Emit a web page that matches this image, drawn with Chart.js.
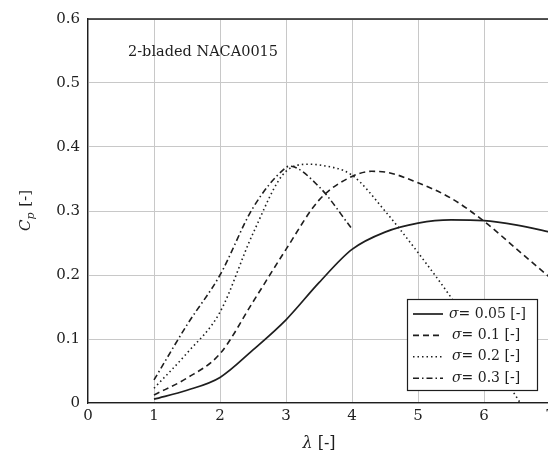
<!DOCTYPE html>
<html>
<head>
<meta charset="utf-8">
<script src="https://cdn.jsdelivr.net/npm/chart.js@4"></script>
<style>
html,body{margin:0;padding:0;overflow:hidden;background:#fff;width:548px;height:454px;}
#wrap{position:absolute;left:0;top:0;width:552px;height:454px;}
</style>
</head>
<body>
<div id="wrap"><canvas id="c"></canvas></div>
<script>
const xTicks = [0,1,2,3,4,5,6,7];
const yTicks = [0,0.1,0.2,0.3,0.4,0.5,0.6];
const seriesLabels = ['0.05','0.1','0.2','0.3'];

const lam05 = [1,1.5,2,2.5,3,3.5,4,4.5,5,5.5,6,6.5,7];
const cp05  = [0.006,0.02,0.04,0.083,0.13,0.188,0.24,0.267,0.281,0.286,0.285,0.278,0.267];

const lam10 = [1,1.5,2,2.5,3,3.5,4,4.3,4.5,5,5.5,6,6.5,7];
const cp10  = [0.0125,0.039,0.077,0.158,0.24,0.317,0.354,0.362,0.361,0.344,0.32,0.284,0.24,0.196];

const lam20 = [1,1.5,2,2.5,3,3.35,3.5,4,4.5,5,5.5,6,6.55];
const cp20  = [0.023,0.078,0.142,0.265,0.362,0.373,0.372,0.356,0.30,0.235,0.165,0.088,0];

const lam30 = [1,1.5,2,2.5,3,3.05,3.5,4];
const cp30  = [0.036,0.122,0.2,0.305,0.368,0.37,0.338,0.272];

const pts = (xs, ys) => xs.map((x,i)=>({x:x, y:ys[i]}));
const ink = '#1e1e1e';
const SERIF = '"DejaVu Serif", "Liberation Serif", serif';

const styles = [
  {dash:[], w:1.7},
  {dash:[6,4], w:1.6},
  {dash:[1.5,3], w:1.6},
  {dash:[6,3,1.5,3], w:1.6}
];
const allData = [pts(lam05,cp05), pts(lam10,cp10), pts(lam20,cp20), pts(lam30,cp30)];

const datasets = allData.map((d,i)=>({
  label: seriesLabels[i],
  data: d,
  borderColor: ink,
  borderWidth: styles[i].w,
  borderDash: styles[i].dash,
  pointRadius: 0,
  fill: false,
  cubicInterpolationMode: 'monotone',
  showLine: true
}));

const overlay = {
  id: 'overlay',
  afterDraw(chart) {
    const ctx = chart.ctx;
    const a = chart.chartArea;
    ctx.save();
    ctx.strokeStyle = ink; ctx.lineWidth = 1.3; ctx.setLineDash([]);
    ctx.beginPath(); ctx.moveTo(a.left, a.top); ctx.lineTo(a.right+2, a.top); ctx.stroke();

    ctx.fillStyle = ink;
    ctx.font = '14.5px ' + SERIF;
    ctx.textAlign = 'left'; ctx.textBaseline = 'alphabetic';
    ctx.fillText('2-bladed NACA0015', 128, 56);

    const cx = (a.left + a.right)/2;
    ctx.textBaseline = 'middle';
    ctx.font = 'italic 16px ' + SERIF;
    const wl = ctx.measureText('λ').width;
    ctx.font = '16px ' + SERIF;
    const wr = ctx.measureText(' [-]').width;
    let sx = cx - (wl+wr)/2;
    ctx.font = 'italic 16px ' + SERIF; ctx.fillText('λ', sx, 444);
    ctx.font = '16px ' + SERIF; ctx.fillText(' [-]', sx+wl, 444);

    ctx.save();
    ctx.translate(25, (a.top+a.bottom)/2);
    ctx.rotate(-Math.PI/2);
    ctx.font = 'italic 15px ' + SERIF;
    const wC = ctx.measureText('C').width;
    ctx.font = 'italic 11px ' + SERIF;
    const wp = ctx.measureText('p').width;
    ctx.font = '15px ' + SERIF;
    const wb = ctx.measureText(' [-]').width;
    let tx = -(wC+wp+wb)/2;
    ctx.textBaseline = 'alphabetic';
    ctx.font = 'italic 15px ' + SERIF; ctx.fillText('C', tx, 5);
    ctx.font = 'italic 11px ' + SERIF; ctx.fillText('p', tx+wC, 9);
    ctx.font = '15px ' + SERIF; ctx.fillText(' [-]', tx+wC+wp+1, 5);
    ctx.restore();

    const L = 407, T = 299, R = 537, B = 390;
    ctx.fillStyle = '#fff';
    ctx.fillRect(L, T, R-L, B-T);
    ctx.strokeStyle = ink; ctx.lineWidth = 1.2;
    ctx.strokeRect(L+0.5, T+0.5, R-L, B-T);
    chart.data.datasets.forEach((ds,i)=>{
      const y = 314 + i*21.4;
      ctx.setLineDash(ds.borderDash);
      ctx.lineWidth = ds.borderWidth;
      ctx.strokeStyle = ink;
      ctx.beginPath(); ctx.moveTo(413, y); ctx.lineTo(443, y); ctx.stroke();
      ctx.setLineDash([]);
      ctx.fillStyle = ink;
      ctx.textBaseline = 'middle';
      const x0 = i===0 ? 449 : 452;
      ctx.font = 'italic 14px ' + SERIF; ctx.fillText('σ', x0, y);
      const ws = ctx.measureText('σ').width;
      ctx.font = '14px ' + SERIF; ctx.fillText('= ' + ds.label + ' [-]', x0+ws, y);
    });
    ctx.restore();
  }
};

new Chart(document.getElementById('c'), {
  type: 'scatter',
  data: { datasets },
  options: {
    responsive: true,
    maintainAspectRatio: false,
    devicePixelRatio: 1,
    animation: false,
    layout: { padding: { left: 0, right: 2, top: 19, bottom: 0 } },
    plugins: { legend: { display: false }, tooltip: { enabled: false } },
    scales: {
      x: {
        type: 'linear', min: 0, max: 7,
        afterBuildTicks: s => { s.ticks = xTicks.map(v=>({value:v})); },
        ticks: { color: ink, font: { family: SERIF, size: 15 }, padding: 4, maxRotation: 0,
                 callback: v => String(v) },
        grid: { color: '#c8c8c8', lineWidth: 1, drawTicks: false },
        border: { display: true, color: ink, width: 1.3 },
        afterFit: s => { s.height = 51; s.paddingLeft = 0; s.paddingRight = 0; }
      },
      y: {
        type: 'linear', min: 0, max: 0.6,
        afterBuildTicks: s => { s.ticks = yTicks.map(v=>({value:v})); },
        ticks: { color: ink, font: { family: SERIF, size: 15 }, padding: 8,
                 callback: v => v === 0 ? '0' : Number(v).toFixed(1) },
        grid: { color: '#c8c8c8', lineWidth: 1, drawTicks: false },
        border: { display: true, color: ink, width: 1.3 },
        afterFit: s => { s.width = 88; s.paddingTop = 0; s.paddingBottom = 0; }
      }
    }
  },
  plugins: [overlay]
});
</script>
</body>
</html>
